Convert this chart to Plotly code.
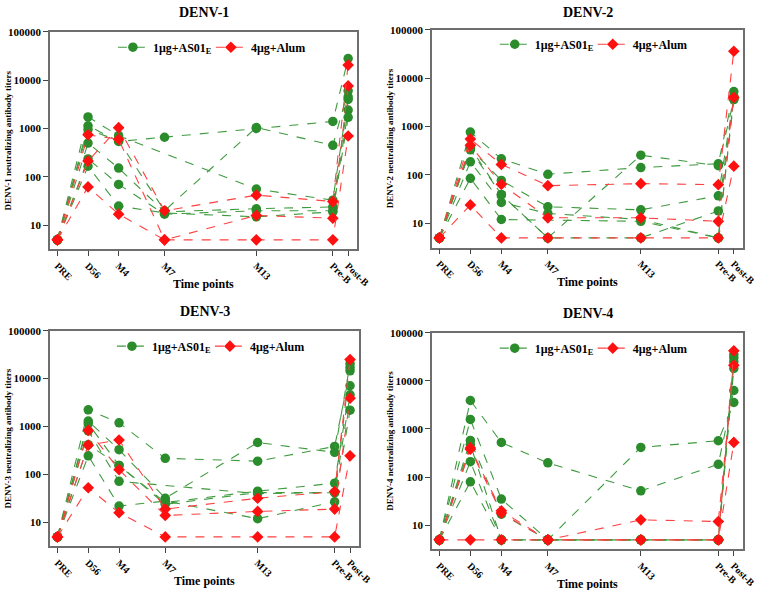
import plotly.graph_objects as go

# ---------------- data ----------------
time_labels = ["PRE", "D56", "M4", "M7", "M13", "Pre-B", "Post-B"]
time_months = [0, 2, 4, 7, 13, 18, 19]
y_ticks = [10, 100, 1000, 10000, 100000]
panel_names = ["DENV-1", "DENV-2", "DENV-3", "DENV-4"]
group_names = ["1μg+AS01<sub>E</sub>", "4μg+Alum"]

denv1_as01 = [
    [5, 1740, 710, None, 56, 33, 4500],
    [5, 1140, 540, 660, 1000, 1400, 28000],
    [5, 950, 560, 20, 1050, 450, 6000],
    [5, 500, 152, 19, 22, 24, 4000],
    [5, 235, 70, 17, 20, 20, 2400],
    [5, 166, 25, 18, 15, 19, 1700],
]
denv1_alum = [
    [5, 62, 17, 5, 16, 14, 7600],
    [5, 213, 1040, 20, 42, 31, 20500],
    [5, 740, 600, 5, 5, 5, 700],
]

denv2_as01 = [
    [5, 770, 215, 103, 142, 170, 5300],
    [5, 350, 77, 22, 19, 37, 3900],
    [5, 370, 39, 5, 256, 155, 3600],
    [5, 187, 27, 16, 12, 5, 4200],
    [5, 85, 12, None, 11, 5, 3700],
    [5, 330, 39, 5, 5, 18, 4000],
]
denv2_alum = [
    [5, 550, 165, 60, 66, 63, 36000],
    [5, 410, 64, 13, 13, 11, 4000],
    [5, 24, 5, 5, 5, 5, 152],
]

denv3_as01 = [
    [5, 2240, 1200, 218, 190, 385, 14500],
    [5, 1300, 330, 32, 465, 290, 20500],
    [5, 1150, 155, 26, 45, 66, 7100],
    [5, 810, 72, None, 40, 42, 4600],
    [5, 245, 22, 28, 12, 27, 2200],
    [5, 420, 155, 24, 42, 42, 17000],
]
denv3_alum = [
    [5, 830, 126, 14, 17, 19, 3900],
    [5, 410, 525, 19, 32, 44, 25000],
    [5, 53, 16, 5, 5, 5, 245],
]

denv4_as01 = [
    [5, 3900, 525, 198, 52, 185, 6300],
    [5, 1580, 35, 5, 415, 570, 3550],
    [5, 580, 17, 5, 5, 5, 35000],
    [5, 475, 5, 5, 5, 5, 30000],
    [5, 210, 5, 5, 5, 5, 25000],
    [5, 80, 5, 5, 5, 5, 18000],
]
denv4_alum = [
    [5, 405, 20, 5, 13, 12, 21000],
    [5, 5, 5, 5, 5, 5, 525],
    [5, 380, 18, 5, 5, 5, 42000],
]

panels_as01 = [denv1_as01, denv2_as01, denv3_as01, denv4_as01]
panels_alum = [denv1_alum, denv2_alum, denv3_alum, denv4_alum]

# ---------------- layout helpers ----------------
W, H = 763, 590
FONT = "Liberation Serif"
GREEN = "#2a8c2a"
GREEN_LINE = "#3f9a3f"
RED = "#ff1010"
RED_LINE = "#ff4040"


def px_x(p):
    return p / W


def px_y(p):
    return 1 - p / H


# plot-area boxes in pixels (left, right, top, bottom)
boxes = [
    (51, 364, 26, 246),
    (440, 757, 24, 244),
    (51, 366, 328, 546),
    (440, 757, 330, 549),
]
legend_pos = [(115, 27), (504, 24), (114, 329), (504, 331)]
title_y = [7, 7, 309, 311]

fig = go.Figure()
layout = dict(
    width=W, height=H, margin=dict(l=0, r=0, t=0, b=0),
    paper_bgcolor="white", plot_bgcolor="white",
    showlegend=True, annotations=[],
)

for i in range(4):
    ax = "" if i == 0 else str(i + 1)
    xa, ya = "x" + ax, "y" + ax
    leg = "legend" + ax
    for gi, (subjects, color, lcolor, sym, msize) in enumerate([
        (panels_as01[i], GREEN, GREEN_LINE, "circle", 9.5),
        (panels_alum[i], RED, RED_LINE, "diamond", 9),
    ]):
        for si, vals in enumerate(subjects):
            fig.add_trace(go.Scatter(
                x=time_months, y=vals, xaxis=xa, yaxis=ya,
                mode="lines+markers", connectgaps=True,
                line=dict(color=lcolor, width=1.1, dash="dash"),
                marker=dict(color=color, size=msize, symbol=sym,
                            line=dict(width=0)),
                name=group_names[gi], legend=leg,
                legendgroup=f"{i}-{gi}", showlegend=(si == 0),
                hoverinfo="x+y",
            ))
    l, r, t, b = boxes[i]
    axis_common = dict(
        showline=True, linecolor="#6e6e6e", linewidth=1.5, mirror=True,
        ticks="outside", ticklen=5, tickcolor="#444", tickwidth=1,
        showgrid=False, zeroline=False,
    )
    layout["xaxis" + ax] = dict(
        axis_common, domain=[px_x(l), px_x(r)], anchor=ya,
        range=[-0.48, 19.6], tickvals=time_months, ticktext=time_labels,
        tickangle=45,
        tickfont=dict(family=FONT, size=10, color="black", weight="bold"),
    )
    layout["yaxis" + ax] = dict(
        axis_common, domain=[px_y(b), px_y(t)], anchor=xa, type="log",
        range=[0.5, 5.0], tickvals=y_ticks, ticktext=[str(v) for v in y_ticks],
        tickfont=dict(family=FONT, size=11, color="black", weight="bold"),
    )
    lx, ly = legend_pos[i]
    layout[leg] = dict(
        x=px_x(lx), y=px_y(ly), xanchor="left", yanchor="top",
        orientation="h", bgcolor="rgba(0,0,0,0)", borderwidth=0,
        font=dict(family=FONT, size=12, color="black", weight="bold"),
        itemwidth=30, tracegroupgap=0,
        entrywidth=53, entrywidthmode="pixels",
    )
    cx = (l + r) / 2
    layout["annotations"] += [
        dict(text="<b>" + panel_names[i] + "</b>", x=px_x(cx), y=px_y(title_y[i]),
             xref="paper", yref="paper", showarrow=False,
             font=dict(family=FONT, size=14, color="black"),
             xanchor="center", yanchor="middle"),
        dict(text="<b>" + panel_names[i] + " neutralizing antibody titers</b>",
             x=px_x(l - 43), y=px_y((t + b) / 2),
             xref="paper", yref="paper", showarrow=False, textangle=-90,
             font=dict(family=FONT, size=9, color="black"),
             xanchor="center", yanchor="middle"),
        dict(text="<b>Time points</b>", x=px_x(cx), y=px_y(b + 35),
             xref="paper", yref="paper", showarrow=False,
             font=dict(family=FONT, size=12, color="black"),
             xanchor="center", yanchor="middle"),
    ]

fig.update_layout(**layout)
fig.write_html("out.html", config={"displayModeBar": False},
               post_script="document.body.style.margin='0';")
